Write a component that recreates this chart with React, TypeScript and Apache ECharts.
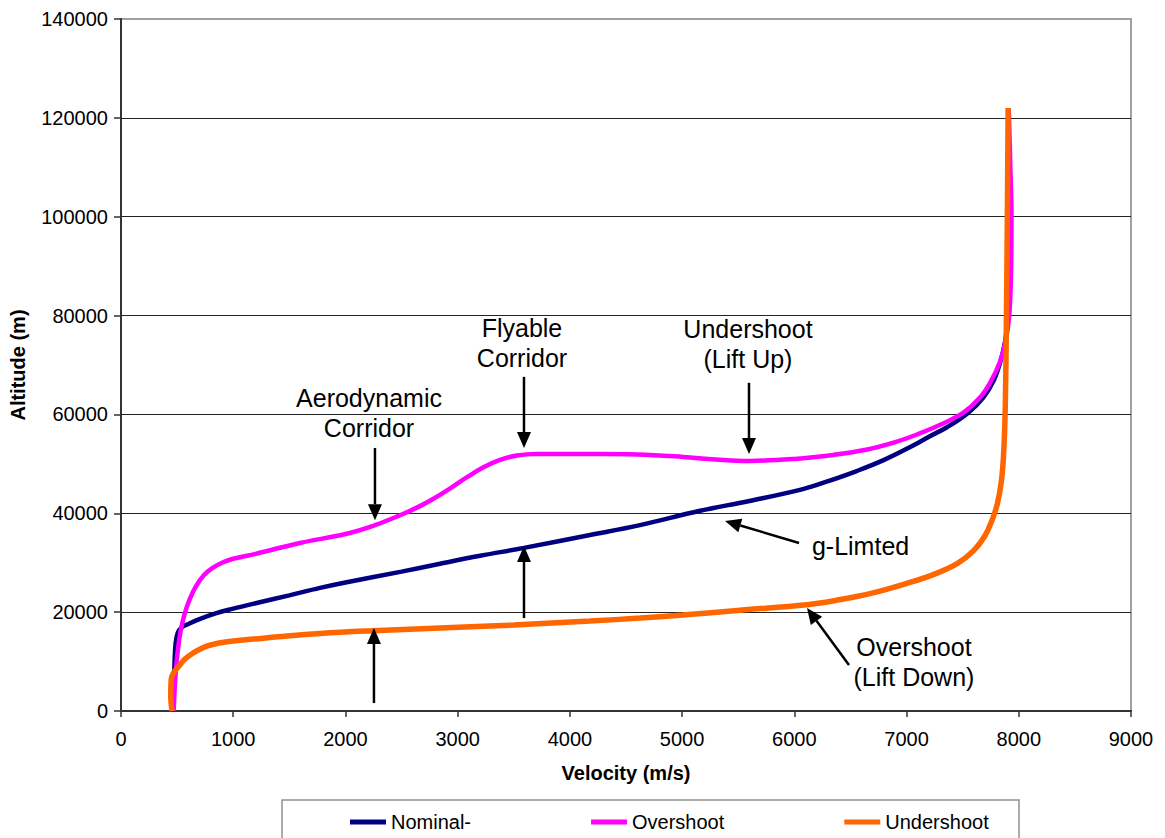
import React, { useEffect, useRef } from "react";
import * as echarts from "echarts";

// Altitude (m) against velocity (m/s) for the three entry trajectories
const nominal: [number, number][] = [
  [465, 0], [470, 4000], [476, 9000], [486, 13500], [505, 15800], [540, 16900],
  [600, 17600], [700, 18600], [850, 19800], [1000, 20700], [1200, 21800],
  [1500, 23400], [1773, 24900], [2000, 26000], [2500, 28200], [2843, 29800],
  [3200, 31400], [3591, 33000], [4180, 35600], [4625, 37600], [5160, 40500],
  [5600, 42500], [6077, 44900], [6300, 46500], [6550, 48500], [6800, 50800],
  [7058, 53700], [7200, 55500], [7360, 57400], [7548, 60300],
  [7680, 63300], [7780, 67000], [7840, 71000], [7880, 75000], [7905, 80000],
  [7918, 90000], [7920, 100000], [7915, 110000], [7905, 122000],
];

const overshootData: [number, number][] = [
  [470, 0], [475, 3000], [488, 8000], [505, 12000], [530, 16000], [565, 19500],
  [610, 22500], [670, 25300], [740, 27500], [820, 29000], [900, 30000],
  [1000, 30800], [1200, 31800], [1595, 34000], [2000, 35800], [2263, 37600],
  [2486, 39600], [2650, 41300], [2780, 42900], [2930, 45000], [3083, 47300],
  [3230, 49300], [3377, 50800], [3529, 51700], [3700, 52000], [4268, 52000],
  [4600, 51900], [5008, 51400], [5300, 50900], [5596, 50600], [6000, 51000],
  [6345, 51800], [6650, 52900], [6900, 54400], [7100, 56000],
  [7300, 57900], [7503, 60300], [7650, 63300], [7744, 66400],
  [7830, 70500], [7880, 74500], [7915, 80000], [7932, 90000], [7935, 100000],
  [7925, 110000], [7910, 122000],
];

const undershootData: [number, number][] = [
  [455, 0], [443, 3000], [447, 6300], [470, 7800], [510, 8900], [570, 10500],
  [640, 11700], [720, 12700], [790, 13300], [945, 14000], [1400, 15000],
  [1773, 15700], [2300, 16300], [2843, 16800], [3500, 17400], [4180, 18200],
  [4625, 18800], [5000, 19400], [5516, 20400], [6113, 21500], [6400, 22500],
  [6701, 23900], [7000, 25800], [7250, 27700], [7450, 29800], [7600, 32500],
  [7700, 35500], [7760, 38500], [7810, 42000], [7845, 46500], [7865, 52000],
  [7880, 62000], [7890, 80000], [7898, 100000], [7905, 122000],
];

const seriesNames = ["Nominal-", "Overshoot", "Undershoot"];
const seriesColors = ["#000080", "#FF00FF", "#FF6600"];

// Callout arrows (tail -> tip) and their labels, in data units
const arrows: { from: [number, number]; to: [number, number] }[] = [
  { from: [2263, 53200], to: [2263, 38600] },
  { from: [3591, 67600], to: [3591, 53200] },
  { from: [5596, 66400], to: [5596, 52000] },
  { from: [6042, 34000], to: [5382, 38450] },
  { from: [6487, 9300], to: [6113, 20850] },
  { from: [3591, 18800], to: [3591, 33400] },
  { from: [2254, 1600], to: [2254, 16800] },
];

const notes: { text: string; at: [number, number] }[] = [
  { text: "Aerodynamic\nCorridor", at: [2210, 60290] },
  { text: "Flyable\nCorridor", at: [3573, 74450] },
  { text: "Undershoot\n(Lift Up)", at: [5587, 74250] },
  { text: "g-Limted", at: [6590, 33380] },
  { text: "Overshoot\n(Lift Down)", at: [7066, 9900] },
];

const FONT = '"Liberation Sans", Arial, sans-serif';

export default function App() {
  const ref = useRef<HTMLDivElement>(null);

  useEffect(() => {
    if (!ref.current) return;
    const chart = echarts.init(ref.current, undefined, { renderer: "svg" });
    const dataSets = [nominal, overshootData, undershootData];
    const widths = [4.5, 4.5, 5.5];

    chart.setOption({
      animation: false,
      backgroundColor: "#ffffff",
      textStyle: { fontFamily: FONT },
      grid: {
        left: 121,
        right: 34,
        top: 19,
        bottom: 127,
        show: true,
        borderColor: "#a0a0a0",
        borderWidth: 2,
        backgroundColor: "#ffffff",
      },
      legend: {
        left: 345,
        top: 807,
        icon: "rect",
        itemWidth: 36,
        itemHeight: 5,
        itemGap: 120,
        data: seriesNames,
        textStyle: { fontSize: 20, color: "#000", fontFamily: FONT },
      },
      xAxis: {
        type: "value",
        min: 0,
        max: 9000,
        interval: 1000,
        name: "Velocity (m/s)",
        nameLocation: "middle",
        nameGap: 52,
        nameTextStyle: { fontSize: 20, fontWeight: "bold", color: "#000", fontFamily: FONT },
        axisLine: { show: true, onZero: false, lineStyle: { color: "#333", width: 2 } },
        axisTick: { show: true, inside: false, length: 6, lineStyle: { color: "#333", width: 1.5 } },
        axisLabel: {
          fontSize: 20,
          color: "#000",
          margin: 18,
          fontFamily: FONT,
          formatter: (v: number) => String(v),
        },
        splitLine: { show: false },
      },
      yAxis: {
        type: "value",
        min: 0,
        max: 140000,
        interval: 20000,
        name: "Altitude (m)",
        nameLocation: "middle",
        nameGap: 93,
        nameTextStyle: { fontSize: 20, fontWeight: "bold", color: "#000", fontFamily: FONT },
        axisLine: { show: true, lineStyle: { color: "#333", width: 2 } },
        axisTick: { show: true, inside: false, length: 7, lineStyle: { color: "#333", width: 1.5 } },
        axisLabel: {
          fontSize: 20,
          color: "#000",
          margin: 13,
          fontFamily: FONT,
          formatter: (v: number) => String(v),
        },
        splitLine: {
          show: true,
          lineStyle: {
            color: ["#222", "#222", "#222", "#222", "#222", "#222", "#222", "#a0a0a0"],
            width: 1,
          },
        },
      },
      series: seriesNames.map((name, i) => ({
        name,
        type: "line",
        data: dataSets[i],
        showSymbol: false,
        smooth: 0.4,
        lineStyle: { color: seriesColors[i], width: widths[i] },
        itemStyle: { color: seriesColors[i] },
        z: 2 + i,
      })),
    });

    const px = (p: [number, number]) =>
      chart.convertToPixel({ gridIndex: 0 }, p) as unknown as [number, number];

    const graphics: any[] = [
      {
        type: "rect",
        z: -1,
        shape: { x: 282, y: 800, width: 737, height: 60 },
        style: { fill: "#ffffff", stroke: "#909090", lineWidth: 1.5 },
      },
    ];

    const headLen = 16;
    const headHalf = 7;
    arrows.forEach((a) => {
      const [x1, y1] = px(a.from);
      const [x2, y2] = px(a.to);
      const dx = x2 - x1;
      const dy = y2 - y1;
      const len = Math.hypot(dx, dy);
      const ux = dx / len;
      const uy = dy / len;
      const bx = x2 - ux * headLen;
      const by = y2 - uy * headLen;
      graphics.push({
        type: "line",
        z: 10,
        shape: { x1, y1, x2: bx, y2: by },
        style: { stroke: "#000", lineWidth: 2.5 },
      });
      graphics.push({
        type: "polygon",
        z: 10,
        shape: {
          points: [
            [x2, y2],
            [bx - uy * headHalf, by + ux * headHalf],
            [bx + uy * headHalf, by - ux * headHalf],
          ],
        },
        style: { fill: "#000" },
      });
    });

    notes.forEach((n) => {
      const [x, y] = px(n.at);
      graphics.push({
        type: "text",
        z: 10,
        x,
        y,
        style: {
          text: n.text,
          fontSize: 25,
          fontFamily: FONT,
          lineHeight: 30,
          fill: "#000",
          align: "center",
          verticalAlign: "middle",
        },
      });
    });

    chart.setOption({ graphic: graphics });

    return () => chart.dispose();
  }, []);

  return (
    <div
      ref={ref}
      style={{ position: "absolute", left: 0, top: 0, width: 1165, height: 838 }}
    />
  );
}
